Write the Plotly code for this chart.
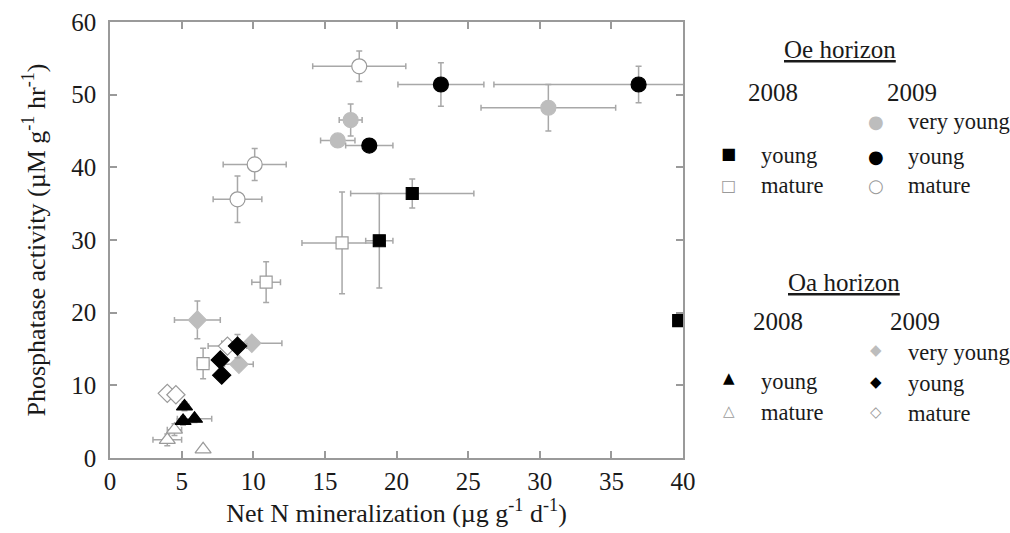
import plotly.graph_objects as go

# ---------------- data ----------------
# Oe horizon, 2008 (squares)
oe08_young_x = [21.1, 18.8, 39.7]
oe08_young_y = [36.4, 29.9, 18.9]
oe08_young_xe = [4.3, 0.95, 0.0]
oe08_young_ye = [2.0, 6.5, 0.0]

oe08_mature_x = [16.2, 10.9, 6.5]
oe08_mature_y = [29.6, 24.2, 13.0]
oe08_mature_xe = [2.8, 1.0, 0.4]
oe08_mature_ye = [7.0, 2.8, 2.1]

# Oe horizon, 2009 (circles)
oe09_vyoung_x = [30.6, 16.8, 15.9]
oe09_vyoung_y = [48.2, 46.5, 43.7]
oe09_vyoung_xe = [4.7, 0.8, 1.2]
oe09_vyoung_ye = [3.2, 2.2, 0.5]

oe09_young_x = [23.1, 36.9, 18.1]
oe09_young_y = [51.4, 51.4, 43.0]
oe09_young_xe = [3.0, 10.1, 1.65]
oe09_young_ye = [3.0, 2.5, 0.8]

oe09_mature_x = [17.4, 10.1, 8.9]
oe09_mature_y = [53.9, 40.4, 35.6]
oe09_mature_xe = [3.25, 2.2, 1.7]
oe09_mature_ye = [2.1, 2.2, 3.2]

# Oa horizon, 2008 (triangles)
oa08_young_x = [5.2, 5.1, 5.9]
oa08_young_y = [7.1, 5.1, 5.4]
oa08_young_xe = [0.3, 0.4, 1.2]
oa08_young_ye = [0.6, 0.6, 0.5]

oa08_mature_x = [6.5, 4.0, 4.5]
oa08_mature_y = [1.2, 2.5, 3.9]
oa08_mature_xe = [0.0, 1.0, 0.5]
oa08_mature_ye = [0.0, 0.8, 0.8]

# Oa horizon, 2009 (diamonds)
oa09_vyoung_x = [6.1, 9.9, 9.0]
oa09_vyoung_y = [19.0, 15.8, 12.9]
oa09_vyoung_xe = [1.6, 2.1, 1.0]
oa09_vyoung_ye = [2.6, 0.4, 0.8]

oa09_young_x = [8.9, 7.7, 7.8]
oa09_young_y = [15.4, 13.5, 11.4]
oa09_young_xe = [0.3, 0.3, 0.2]
oa09_young_ye = [1.6, 0.5, 0.5]

oa09_mature_x = [8.2, 4.0, 4.6]
oa09_mature_y = [15.4, 8.9, 8.7]
oa09_mature_xe = [1.35, 0.3, 0.3]
oa09_mature_ye = [0.5, 0.5, 0.5]

x_ticks = [0, 5, 10, 15, 20, 25, 30, 35, 40]
y_ticks = [0, 10, 20, 30, 40, 50, 60]

# ---------------- style ----------------
BLACK = "#000000"
GREY = "#bdbdbd"
WHITE = "#ffffff"
EDGE = "#9a9a9a"
ERR = "#a8a8a8"
FONT = "Liberation Serif, Times New Roman, serif"
TXT = "#1a1a1a"

fig = go.Figure()


def add(x, y, xe, ye, symbol, fill, line, size):
    fig.add_trace(go.Scatter(
        x=x, y=y, mode="markers",
        marker=dict(symbol=symbol, color=fill, size=size,
                    line=dict(color=line, width=1.2)),
        error_x=dict(type="data", array=xe, color=ERR, thickness=1.5, width=3),
        error_y=dict(type="data", array=ye, color=ERR, thickness=1.5, width=3),
        showlegend=False, cliponaxis=True,
    ))


# draw order: grey, white, black
add(oe09_vyoung_x, oe09_vyoung_y, oe09_vyoung_xe, oe09_vyoung_ye, "circle", GREY, GREY, 15)
add(oa09_vyoung_x, oa09_vyoung_y, oa09_vyoung_xe, oa09_vyoung_ye, "diamond", GREY, GREY, 14)
add(oe08_mature_x, oe08_mature_y, oe08_mature_xe, oe08_mature_ye, "square", WHITE, EDGE, 12)
add(oe09_mature_x, oe09_mature_y, oe09_mature_xe, oe09_mature_ye, "circle", WHITE, EDGE, 15)
add(oa08_mature_x, oa08_mature_y, oa08_mature_xe, oa08_mature_ye, "triangle-up", WHITE, EDGE, 14)
add(oa09_mature_x, oa09_mature_y, oa09_mature_xe, oa09_mature_ye, "diamond", WHITE, EDGE, 14)
add(oe08_young_x, oe08_young_y, oe08_young_xe, oe08_young_ye, "square", BLACK, BLACK, 12)
add(oe09_young_x, oe09_young_y, oe09_young_xe, oe09_young_ye, "circle", BLACK, BLACK, 15)
add(oa08_young_x, oa08_young_y, oa08_young_xe, oa08_young_ye, "triangle-up", BLACK, BLACK, 14)
add(oa09_young_x, oa09_young_y, oa09_young_xe, oa09_young_ye, "diamond", BLACK, BLACK, 14)

# ---------------- layout ----------------
W, H = 1010, 533
L, R, T, B = 110, 327, 22, 75

axis_common = dict(
    showline=True, linecolor="#9a9a9a", linewidth=1.5, mirror="ticks",
    ticks="inside", ticklen=7, tickwidth=1.5, tickcolor="#9a9a9a",
    showgrid=False, zeroline=False, automargin=False,
    tickfont=dict(family=FONT, size=25, color=TXT),
)

fig.update_layout(
    width=W, height=H,
    margin=dict(l=L, r=R, t=T, b=B, pad=0, autoexpand=False),
    paper_bgcolor="white", plot_bgcolor="white",
    font=dict(family=FONT, size=22, color=TXT),
    xaxis=dict(range=[0, 40], tickvals=x_ticks, ticktext=[str(v) for v in x_ticks],
               title=dict(text="Net N mineralization (µg g<sup>-1</sup> d<sup>-1</sup>)",
                          font=dict(family=FONT, size=26, color=TXT), standoff=7),
               ticklabelstandoff=0, **axis_common),
    yaxis=dict(range=[0, 60], tickvals=y_ticks, ticktext=[str(v) for v in y_ticks],
               title=dict(text="Phosphatase activity (µM g<sup>-1</sup> hr<sup>-1</sup>)",
                          font=dict(family=FONT, size=26, color=TXT), standoff=18),
               ticklabelstandoff=7, **axis_common),
)


# legend drawn as text annotations, positioned in pixels of the figure
def px(xp):
    return (xp - L) / (W - L - R)


def py(yp):
    return (H - B - yp) / (H - T - B)


def txt(x, y, s, xanchor="center", size=22.5, color=TXT, family=FONT):
    fig.add_annotation(x=px(x), y=py(y), xref="paper", yref="paper", text=s,
                       showarrow=False, xanchor=xanchor, yanchor="middle",
                       font=dict(family=family, size=size, color=color))


SYM = "DejaVu Sans"

# Oe block
txt(840, 50, "<u>Oe horizon</u>", size=25)
txt(773, 92, "2008", size=25)
txt(912, 92, "2009", size=25)
txt(729, 154, "■", size=16, color=BLACK, family=SYM)
txt(729, 185, "□", size=16, color=EDGE, family=SYM)
txt(759, 155, "young", xanchor="left")
txt(759, 186, "mature", xanchor="left")
txt(876, 122, "●", size=18, color=GREY, family=SYM)
txt(876, 156, "●", size=18, color=BLACK, family=SYM)
txt(876, 186, "○", size=18, color=EDGE, family=SYM)
txt(906, 122, "very young", xanchor="left")
txt(906, 156, "young", xanchor="left")
txt(906, 186, "mature", xanchor="left")

# Oa block
txt(844, 282, "<u>Oa horizon</u>", size=25)
txt(778, 321, "2008", size=25)
txt(915, 321, "2009", size=25)
txt(729, 378, "▲", size=15, color=BLACK, family=SYM)
txt(729, 411, "△", size=15, color=EDGE, family=SYM)
txt(759, 381, "young", xanchor="left")
txt(759, 412, "mature", xanchor="left")
txt(876, 350, "◆", size=15, color=GREY, family=SYM)
txt(876, 382, "◆", size=15, color=BLACK, family=SYM)
txt(876, 412, "◇", size=15, color=EDGE, family=SYM)
txt(906, 352, "very young", xanchor="left")
txt(906, 383, "young", xanchor="left")
txt(906, 413, "mature", xanchor="left")

# remove the default page margin so the figure sits at the window's top-left corner
fig.write_html("out.html",
               config={"displayModeBar": False},
               post_script="document.body.style.margin='0';document.body.style.overflow='hidden';")
